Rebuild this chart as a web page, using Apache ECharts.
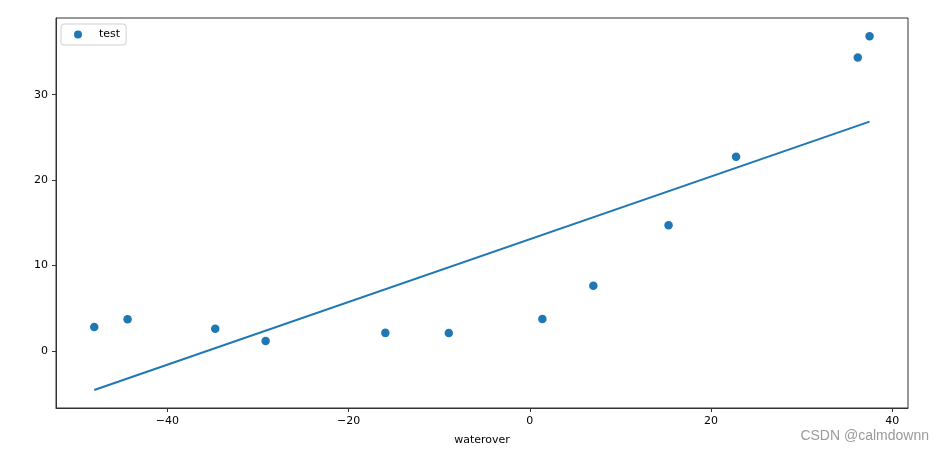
<!DOCTYPE html>
<html>
<head>
<meta charset="utf-8">
<script src="https://cdn.jsdelivr.net/npm/echarts@6/dist/echarts.min.js"></script>
<style>
html,body{margin:0;padding:0;background:#fff;}
#chart{width:944px;height:452px;}
</style>
</head>
<body>
<div id="chart"></div>
<script>
// Data
var waterX = [-15.94, -29.15, 36.19, 37.49, -48.06, -8.94, 15.31, -34.71, 1.39, -44.38, 7.01, 22.76];
var flowY  = [2.13, 1.17, 34.36, 36.84, 2.81, 2.12, 14.71, 2.61, 3.74, 3.73, 7.63, 22.75];
var fitX = [-48.06, 37.49];
var fitY = [-4.55, 26.85];
var xTicks = [-40, -20, 0, 20, 40];
var yTicks = [0, 10, 20, 30];
var legendName = 'test';
var xName = 'waterover';

var scatterData = waterX.map(function (x, i) { return [x, flowY[i]]; });
var lineData = fitX.map(function (x, i) { return [x, fitY[i]]; });
var blue = '#1f77b4';
var font = 'DejaVu Sans';
function fmt(v) { return String(v).replace('-', '\u2212'); }

var chart = echarts.init(document.getElementById('chart'), null, {renderer: 'canvas'});
chart.setOption({
  animation: false,
  backgroundColor: '#fff',
  grid: {left: 56, right: 36, top: 18, bottom: 44, show: true, borderColor: '#333', borderWidth: 1, backgroundColor: 'transparent'},
  legend: {
    left: 61, top: 24,
    data: [{name: legendName, icon: 'circle'}],
    itemWidth: 24, itemHeight: 8,
    padding: [5, 6, 5, 13],
    borderColor: '#d0d0d0', borderWidth: 1, borderRadius: 3,
    backgroundColor: '#fff',
    textStyle: {fontFamily: font, fontSize: 11, color: '#000', padding: [2, 0, 0, 4]}
  },
  xAxis: {
    type: 'value', min: -52.28, max: 41.73,
    name: xName, nameLocation: 'middle', nameGap: 27,
    nameTextStyle: {fontFamily: font, fontSize: 11, color: '#000'},
    axisLine: {show: true, onZero: false, lineStyle: {color: '#333', width: 1}},
    axisTick: {show: true, inside: false, length: 4, customValues: xTicks, lineStyle: {color: '#333'}},
    axisLabel: {show: true, customValues: xTicks, margin: 8, formatter: fmt, fontFamily: font, fontSize: 11, color: '#000'},
    splitLine: {show: false}
  },
  yAxis: {
    type: 'value', min: -6.66, max: 38.97,
    axisLine: {show: true, onZero: false, lineStyle: {color: '#333', width: 1}},
    axisTick: {show: true, inside: false, length: 4, customValues: yTicks, lineStyle: {color: '#333'}},
    axisLabel: {show: true, customValues: yTicks, margin: 8, formatter: fmt, fontFamily: font, fontSize: 11, color: '#000'},
    splitLine: {show: false}
  },
  series: [
    {
      name: legendName, type: 'scatter', data: scatterData,
      symbol: 'circle', symbolSize: 8.5,
      itemStyle: {color: blue, opacity: 1}, z: 3
    },
    {
      name: 'fit', type: 'line', data: lineData,
      showSymbol: false, symbol: 'none',
      lineStyle: {color: blue, width: 2}, z: 2
    }
  ],
  graphic: [{
    type: 'text', right: 15, top: 429,
    style: {text: 'CSDN @calmdownn', fill: '#9a9a9a', font: '14px "Liberation Sans", Arial, sans-serif'}
  }]
});
</script>
</body>
</html>
